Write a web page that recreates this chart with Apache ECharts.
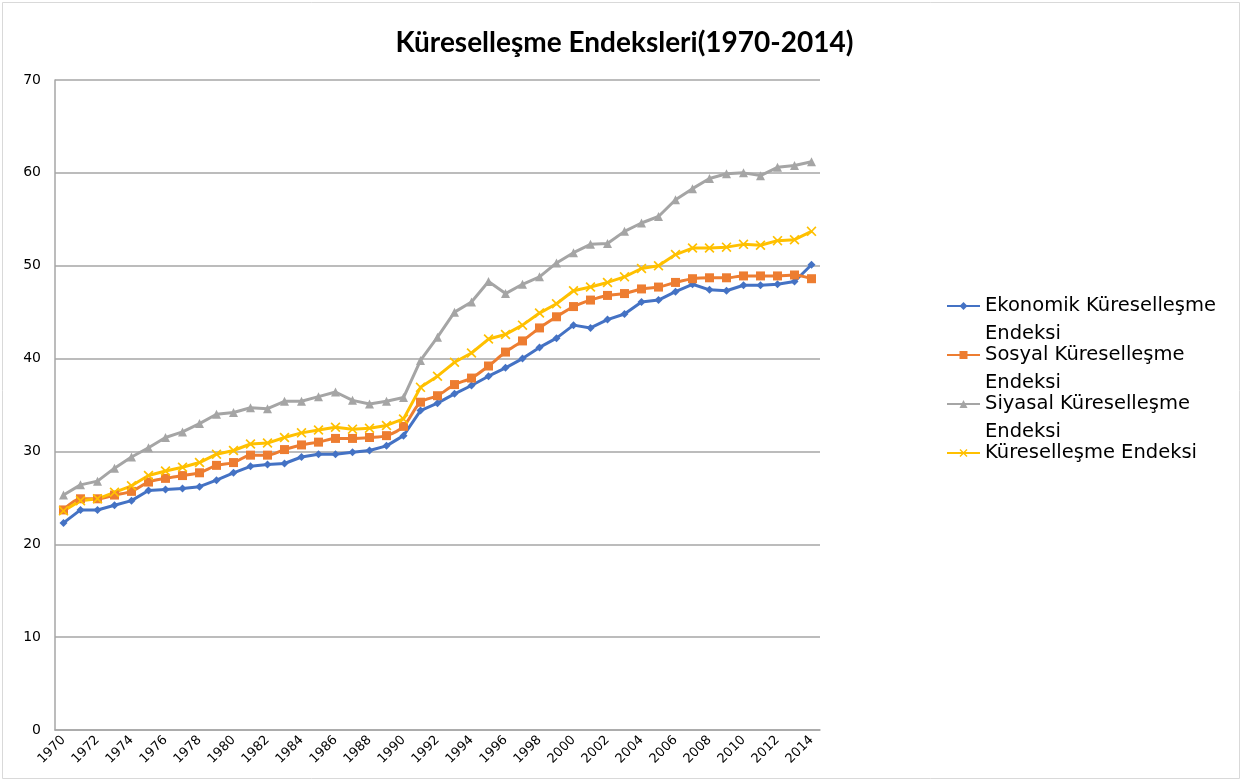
<!DOCTYPE html>
<html>
<head>
<meta charset="utf-8">
<script src="https://cdn.jsdelivr.net/npm/echarts@6/dist/echarts.min.js"></script>
<style>
html,body{margin:0;padding:0;background:#fff;}
#chart{width:1249px;height:783px;}
</style>
</head>
<body>
<div id="chart"></div>
<script>
const years = [];
for (let y = 1970; y <= 2014; y++) years.push(String(y));

const titleText = 'Küreselleşme Endeksleri(1970-2014)';
const seriesNames = ['Ekonomik Küreselleşme Endeksi', 'Sosyal Küreselleşme Endeksi', 'Siyasal Küreselleşme Endeksi', 'Küreselleşme Endeksi'];

const ekonomik = [22.3,23.7,23.7,24.2,24.7,25.8,25.9,26.0,26.2,26.9,27.7,28.4,28.6,28.7,29.4,29.7,29.7,29.9,30.1,30.6,31.7,34.4,35.2,36.2,37.1,38.1,39.0,40.0,41.2,42.2,43.6,43.3,44.2,44.8,46.1,46.3,47.2,48.0,47.4,47.3,47.9,47.9,48.0,48.3,50.1];
const sosyal = [23.7,24.9,24.9,25.3,25.7,26.7,27.1,27.4,27.7,28.5,28.8,29.6,29.6,30.2,30.7,31.0,31.4,31.4,31.5,31.7,32.7,35.3,36.0,37.2,37.9,39.2,40.7,41.9,43.3,44.5,45.6,46.3,46.8,47.0,47.5,47.7,48.2,48.6,48.7,48.7,48.9,48.9,48.9,49.0,48.6];
const siyasal = [25.3,26.4,26.8,28.2,29.4,30.4,31.5,32.1,33.0,34.0,34.2,34.7,34.6,35.4,35.4,35.9,36.4,35.5,35.1,35.4,35.8,39.8,42.3,45.0,46.1,48.3,47.0,48.0,48.8,50.3,51.4,52.3,52.4,53.7,54.6,55.3,57.1,58.3,59.4,59.9,60.0,59.7,60.6,60.8,61.2];
const genel = [23.6,24.7,24.9,25.6,26.3,27.4,27.9,28.3,28.8,29.7,30.1,30.8,30.9,31.5,32.0,32.3,32.6,32.4,32.5,32.8,33.5,36.9,38.1,39.6,40.6,42.1,42.6,43.6,44.9,45.9,47.3,47.7,48.2,48.8,49.7,50.0,51.2,51.9,51.9,52.0,52.3,52.2,52.7,52.8,53.7];

const colors = ['#4472C4', '#ED7D31', '#A5A5A5', '#FFC000'];
const xSymbol = 'path://M0,1.2 L1.2,0 L5,3.8 L8.8,0 L10,1.2 L6.2,5 L10,8.8 L8.8,10 L5,6.2 L1.2,10 L0,8.8 L3.8,5 Z';

function legendLabel(name) {
  if (name.length > 22) {
    const idx = name.lastIndexOf(' ');
    return '\n' + name.slice(0, idx) + '\n' + name.slice(idx + 1);
  }
  return '\n' + name + '\n';
}

function mkSeries(name, data, color, symbol, size, smooth) {
  return {
    name: name,
    type: 'line',
    data: data,
    smooth: smooth,
    symbol: symbol,
    symbolSize: size,
    showSymbol: true,
    lineStyle: { color: color, width: 3 },
    itemStyle: { color: color, borderColor: color, borderWidth: 0 },
    emphasis: { disabled: true }
  };
}

const chart = echarts.init(document.getElementById('chart'), null, { renderer: 'canvas' });
chart.setOption({
  animation: false,
  backgroundColor: '#ffffff',
  color: colors,
  title: {
    text: titleText,
    left: 'center',
    top: 24,
    textStyle: { fontFamily: 'Lato', fontWeight: 'bold', fontSize: 28, color: '#000000' }
  },
  graphic: [{
    type: 'rect',
    shape: { x: 2.5, y: 2.5, width: 1237, height: 776 },
    style: { fill: 'none', stroke: '#d9d9d9', lineWidth: 1 },
    silent: true
  }],
  legend: {
    orient: 'vertical',
    left: 946,
    top: 264,
    padding: 0,
    itemGap: -35,
    itemWidth: 33,
    itemHeight: 10,
    data: seriesNames,
    formatter: legendLabel,
    textStyle: { fontFamily: 'DejaVu Sans', fontSize: 19.5, lineHeight: 28, color: '#000000' }
  },
  grid: { left: 55, right: 429, top: 80, bottom: 53, containLabel: false },
  xAxis: {
    type: 'category',
    data: years,
    boundaryGap: true,
    axisLine: { show: true, lineStyle: { color: '#a6a6a6', width: 1.5 } },
    axisTick: { show: false },
    axisLabel: { interval: 1, rotate: 45, fontFamily: 'DejaVu Sans', fontSize: 13, color: '#000000', margin: 8 },
    splitLine: { show: false }
  },
  yAxis: {
    type: 'value',
    min: 0, max: 70, interval: 10,
    axisLine: { show: true, lineStyle: { color: '#a6a6a6', width: 1.5 } },
    axisTick: { show: false },
    axisLabel: { fontFamily: 'DejaVu Sans', fontSize: 14, color: '#000000', margin: 14 },
    splitLine: { show: true, lineStyle: { color: '#a6a6a6', width: 1.5 } }
  },
  series: [
    mkSeries(seriesNames[0], ekonomik, colors[0], 'diamond', 8, false),
    mkSeries(seriesNames[1], sosyal, colors[1], 'rect', 9, 0.3),
    mkSeries(seriesNames[2], siyasal, colors[2], 'triangle', 9, false),
    mkSeries(seriesNames[3], genel, colors[3], xSymbol, 10, false)
  ]
});
</script>
</body>
</html>
